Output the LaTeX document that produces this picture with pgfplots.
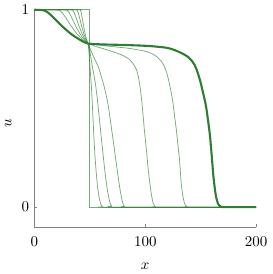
\documentclass[border=0pt]{standalone}
\usepackage{pgfplots}
\pgfplotsset{compat=1.18}
\definecolor{dg}{RGB}{46,125,50}
\begin{document}
\begin{tikzpicture}
\begin{axis}[
  scale only axis, width=148pt, height=145pt,
  xmin=0, xmax=200, ymin=-0.1, ymax=1,
  clip=false,
  axis lines=left,
  axis line style={-, draw=gray},
  every outer x axis line/.append style={-},
  every outer y axis line/.append style={-},
  tick align=inside, major tick length=2pt,
  tick style={gray},
  xtick={0,100,200}, ytick={0,1},
  xticklabel style={yshift=-3pt},
  xlabel={$x$}, ylabel={$u$},
  xlabel style={yshift=-4pt},
  ylabel style={xshift=-3pt},
  thin line/.style={dg, opacity=0.65, line width=0.5pt},
]
\addplot[thin line] coordinates {(0,1)(49.5,1)(49.5,0)(200,0)};
\addplot[thin line, smooth, tension=0.3] coordinates {(0,1)(40.5,1)(41.5,0.997)(42.2,0.985)(42.9,0.964)(43.6,0.942)(44.3,0.919)(45,0.899)(45.7,0.880)(46.4,0.864)(47.1,0.850)(47.8,0.838)(48.5,0.826)(49.5,0.76)(50.5,0.68)(51.5,0.6)(52.5,0.49)(53.5,0.37)(54.5,0.27)(55.5,0.19)(57,0.1)(58.5,0.045)(60,0.012)(61.5,0.002)(63,0)(200,0)};
\addplot[thin line, smooth, tension=0.3] coordinates {(0,1)(37,1)(38.5,0.997)(39.5,0.985)(40.5,0.964)(41.5,0.942)(42.5,0.919)(43.5,0.899)(44.5,0.880)(45.5,0.864)(46.5,0.850)(47.5,0.838)(48.5,0.826)(50,0.79)(52,0.72)(53.5,0.675)(55,0.625)(56.5,0.56)(58,0.48)(60,0.37)(61.5,0.29)(62.5,0.236)(64,0.16)(66,0.08)(68,0.025)(69.5,0.006)(71,0)(200,0)};
\addplot[thin line, smooth, tension=0.3] coordinates {(0,1)(32.4,1)(34.5,0.997)(35.9,0.985)(37.3,0.964)(38.7,0.942)(40.1,0.919)(41.5,0.899)(42.9,0.880)(44.3,0.864)(45.7,0.850)(47.1,0.838)(48.5,0.826)(50.6,0.797)(54,0.755)(58,0.705)(62.5,0.62)(65.4,0.55)(67,0.5)(69,0.42)(71,0.34)(73.5,0.236)(75.5,0.155)(77.5,0.08)(79.5,0.025)(81,0.006)(83,0)(200,0)};
\addplot[thin line, smooth, tension=0.3] coordinates {(0,1)(26.6,1)(29.5,0.997)(31.4,0.985)(33.3,0.964)(35.2,0.942)(37.1,0.919)(39,0.899)(40.9,0.880)(42.8,0.864)(44.7,0.850)(46.6,0.838)(48.5,0.829)(55,0.815)(62,0.803)(70,0.789)(78,0.773)(85,0.752)(89,0.727)(92.2,0.695)(94,0.655)(95.5,0.6)(96.8,0.54)(98.2,0.454)(99.2,0.39)(100.3,0.33)(101.2,0.28)(102.5,0.2)(103.5,0.15)(104.2,0.119)(105.5,0.065)(107.1,0.02)(109,0.003)(111,0)(200,0)};
\addplot[thin line, smooth, tension=0.3] coordinates {(0,1)(18.6,1)(22.5,0.997)(25.1,0.985)(27.7,0.964)(30.3,0.942)(32.9,0.919)(35.5,0.899)(38.1,0.880)(40.7,0.864)(43.3,0.850)(45.9,0.838)(48.5,0.829)(55,0.824)(65,0.817)(75,0.811)(85,0.805)(93.75,0.797)(100,0.79)(105.6,0.779)(110,0.764)(114.6,0.739)(117,0.716)(119,0.688)(120.6,0.655)(122,0.62)(123.5,0.58)(125,0.53)(126.5,0.46)(128,0.395)(129,0.34)(130,0.29)(131,0.236)(132.4,0.125)(133.8,0.06)(135.4,0.02)(137,0.005)(139,0)(200,0)};
\addplot[dg, line width=1.4pt, smooth, tension=0.3] coordinates {(0,1)(2.5,1)(8.5,0.997)(12.5,0.985)(16.5,0.964)(20.5,0.942)(24.5,0.919)(28.5,0.899)(32.5,0.880)(36.5,0.864)(40.5,0.850)(44.5,0.837)(48.5,0.829)(55,0.826)(65,0.824)(80,0.822)(95,0.819)(105,0.816)(117.6,0.809)(124,0.801)(129.5,0.789)(134,0.777)(138.4,0.762)(141.5,0.745)(144.4,0.722)(146.7,0.692)(148.8,0.655)(150.4,0.622)(151.8,0.588)(153,0.56)(154.2,0.53)(155.3,0.495)(156.3,0.455)(157.5,0.405)(158.6,0.352)(160,0.26)(161.6,0.151)(163,0.085)(164,0.05)(165.5,0.02)(167,0.007)(169,0.001)(171,0)(200,0)};
\end{axis}
\end{tikzpicture}
\end{document}
